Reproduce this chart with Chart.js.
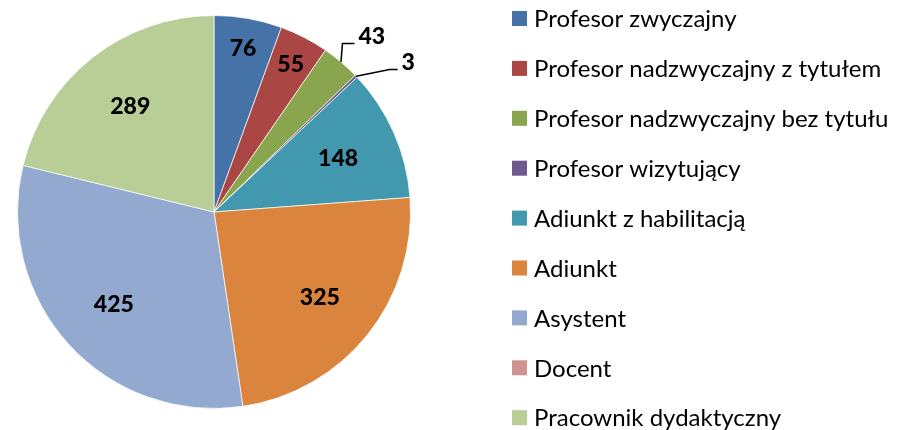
<!DOCTYPE html>
<html>
<head>
<meta charset="utf-8">
<script src="https://cdn.jsdelivr.net/npm/chart.js@4.4.1/dist/chart.umd.min.js"></script>
<style>
html,body{margin:0;padding:0;background:#ffffff;overflow:hidden}
#wrap{position:relative;width:899px;height:430px}
canvas{display:block}
</style>
</head>
<body>
<div id="wrap"><canvas id="c" width="899" height="430"></canvas></div>
<script>
// ---- data ----
const categories = [
  "Profesor zwyczajny",
  "Profesor nadzwyczajny z tytułem",
  "Profesor nadzwyczajny bez tytułu",
  "Profesor wizytujący",
  "Adiunkt z habilitacją",
  "Adiunkt",
  "Asystent",
  "Docent",
  "Pracownik dydaktyczny"
];
const values = [76, 55, 43, 3, 148, 325, 425, 0, 289];

// ---- styles ----
const sliceColors = ["#4572A7", "#AA4643", "#89A54E", "#71588F", "#4198AF", "#DB843D", "#93A9CF", "#D19392", "#B9CD96"];
const FONT = "Lato, 'Open Sans', 'Liberation Sans', sans-serif";

const total = values.reduce((a, b) => a + b, 0);

const valueLabels = {
  id: 'valueLabels',
  afterDatasetsDraw(chart, args, opts) {
    const ctx = chart.ctx;
    const meta = chart.getDatasetMeta(0);
    ctx.save();
    ctx.fillStyle = '#000';
    ctx.font = '900 ' + opts.fontSize + 'px ' + FONT;
    meta.data.forEach((arc, i) => {
      const v = values[i];
      if (!v) return;
      const p = arc.getProps(['x', 'y', 'startAngle', 'endAngle', 'outerRadius'], true);
      const mid = (p.startAngle + p.endAngle) / 2;
      const frac = v / total;
      const text = String(v);
      if (frac < 0.035) {
        const ex = p.x + p.outerRadius * Math.cos(mid);
        const ey = p.y + p.outerRadius * Math.sin(mid);
        const lo = opts.leaders[i] || {dx: 10, dy: -10, h: 10};
        const bx = ex + lo.dx, by = ey + lo.dy;
        const hx = bx + lo.h;
        ctx.strokeStyle = '#000';
        ctx.lineWidth = 1.5;
        ctx.beginPath();
        ctx.moveTo(ex, ey);
        ctx.lineTo(bx, by);
        ctx.lineTo(hx, by);
        ctx.stroke();
        ctx.textAlign = 'left';
        ctx.textBaseline = 'alphabetic';
        ctx.fillText(text, hx + 4, by + 0.5);
      } else {
        const r = p.outerRadius * (frac < 0.06 ? 0.85 : 0.69);
        ctx.textAlign = 'center';
        ctx.textBaseline = 'middle';
        ctx.fillText(text, p.x + r * Math.cos(mid), p.y + r * Math.sin(mid) + 1);
      }
    });
    ctx.restore();
  }
};

const sideLegend = {
  id: 'sideLegend',
  afterDraw(chart, args, opts) {
    const ctx = chart.ctx;
    ctx.save();
    ctx.font = opts.fontSize + 'px ' + FONT;
    ctx.textAlign = 'left';
    ctx.textBaseline = 'middle';
    categories.forEach((label, i) => {
      const cy = opts.top + i * opts.step;
      ctx.fillStyle = sliceColors[i];
      ctx.fillRect(opts.boxX, cy - opts.box / 2, opts.box, opts.box);
      ctx.fillStyle = '#000';
      ctx.fillText(label, opts.textX, cy + 1);
    });
    ctx.restore();
  }
};

new Chart(document.getElementById('c'), {
  type: 'pie',
  data: {
    labels: categories,
    datasets: [{
      data: values,
      backgroundColor: sliceColors,
      borderColor: 'rgba(255,255,255,0.7)',
      borderWidth: ctx => (ctx.raw ? 1 : 0),
      hoverOffset: 0,
      offset: 0
    }]
  },
  options: {
    responsive: false,
    animation: false,
    devicePixelRatio: 1,
    layout: { padding: { left: 17, top: 15, right: 488, bottom: 21 } },
    plugins: {
      legend: { display: false },
      tooltip: { enabled: false },
      valueLabels: {
        fontSize: 23,
        leaders: {
          2: { dx: 1.5, dy: -18.5, h: 12 },
          3: { dx: 33.5, dy: -6.8, h: 8 }
        }
      },
      sideLegend: { top: 18.5, step: 49.9, box: 15, boxX: 512, textX: 534, fontSize: 24 }
    }
  },
  plugins: [valueLabels, sideLegend]
});
</script>
</body>
</html>
